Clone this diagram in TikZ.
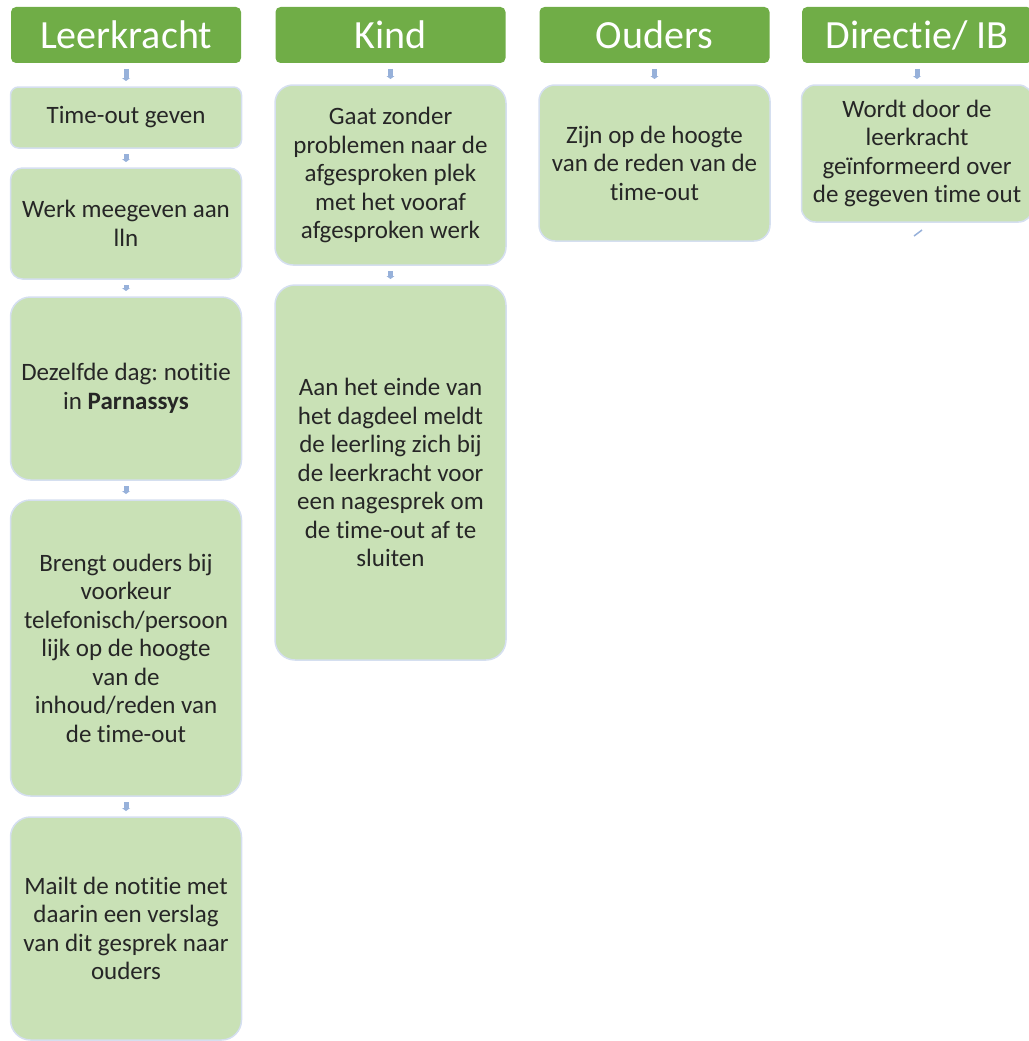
\documentclass[tikz,border=0pt]{standalone}
\usepackage{fontspec}
\setmainfont{Carlito}[Ligatures=NoCommon]
\usetikzlibrary{positioning,arrows.meta,calc}
\definecolor{kopgroen}{HTML}{70AD47}
\definecolor{vakgroen}{HTML}{C9E1B6}
\definecolor{randblauw}{HTML}{D5DFF0}
\definecolor{pijlblauw}{HTML}{97B1DA}
\frenchspacing
\tikzset{
    kop/.style={fill=kopgroen, text=white, rounded corners=5pt, minimum width=230pt,
        minimum height=56pt, inner sep=0pt, outer sep=0pt, font=\fontsize{40}{46}\selectfont},
    vak/.style={fill=vakgroen, draw=randblauw, line width=1.5pt, rounded corners=20pt,
        minimum width=231pt, inner sep=0pt, outer sep=0pt, align=center, text=black!85,
        font=\fontsize{25}{28.5}\selectfont},
    pijl/.style={draw=pijlblauw, line width=5pt, shorten <=6pt, shorten >=6pt,
        -{Triangle[length=3pt,width=8pt]}}
}

\begin{document}
\begin{tikzpicture}[x=1pt,y=1pt]
    \useasboundingbox (0,0) rectangle (1028,-1041);
    % kopjes
    \node[kop] (hl) at (126,-35) {Leerkracht};
    \node[kop] (hk) at (390.5,-35) {Kind};
    \node[kop] (ho) at (654.5,-35) {Ouders};
    \node[kop] (hd) at (917,-35) {Directie/ IB};
    % leerkracht
    \node[vak, minimum height=61pt, rounded corners=8pt, below=24pt of hl] (l1) {Time-out geven};
    \node[vak, minimum height=111pt, rounded corners=12pt, below=20pt of l1] (l2) {Werk meegeven aan\\lln};
    \node[vak, minimum height=183pt, below=18pt of l2] (l3) {Dezelfde dag: notitie\\in \textbf{Parnassys}};
    \node[vak, minimum height=296pt, below=20pt of l3] (l4) {Brengt ouders bij\\voorkeur\\telefonisch/persoon\\lijk op de hoogte\\van de\\inhoud/reden van\\de time-out};
    \node[vak, minimum height=223pt, below=21pt of l4] (l5) {Mailt de notitie met\\daarin een verslag\\van dit gesprek naar\\ouders};
    % kind
    \node[vak, minimum height=180pt, rounded corners=18pt, below=22pt of hk] (k1) {Gaat zonder\\problemen naar de\\afgesproken plek\\met het vooraf\\afgesproken werk};
    \node[vak, minimum height=375pt, below=20pt of k1] (k2) {Aan het einde van\\het dagdeel meldt\\de leerling zich bij\\de leerkracht voor\\een nagesprek om\\de time-out af te\\sluiten};
    % ouders
    \node[vak, minimum height=156pt, rounded corners=16pt, below=22pt of ho] (o1) {Zijn op de hoogte\\van de reden van de\\time-out};
    % directie
    \node[vak, minimum height=137pt, rounded corners=14pt, below=22pt of hd] (d1) {Wordt door de\\leerkracht\\geïnformeerd over\\de gegeven time out};
    \coordinate (dtop) at ($(d1.south)+(5,-8)$);
    \coordinate (dend) at ($(d1.south)+(-3,-14)$);

    \draw[pijl] (hl.south) -- (l1.north);
    \draw[pijl] (l1.south) -- (l2.north);
    \draw[pijl] (l2.south) -- (l3.north);
    \draw[pijl] (l3.south) -- (l4.north);
    \draw[pijl] (l4.south) -- (l5.north);
    \draw[pijl] (hk.south) -- (k1.north);
    \draw[pijl] (k1.south) -- (k2.north);
    \draw[pijl] (ho.south) -- (o1.north);
    \draw[pijl] (hd.south) -- (d1.north);
    \draw[pijlblauw, line width=1.5pt] (dtop) -- (dend);
\end{tikzpicture}
\end{document}
